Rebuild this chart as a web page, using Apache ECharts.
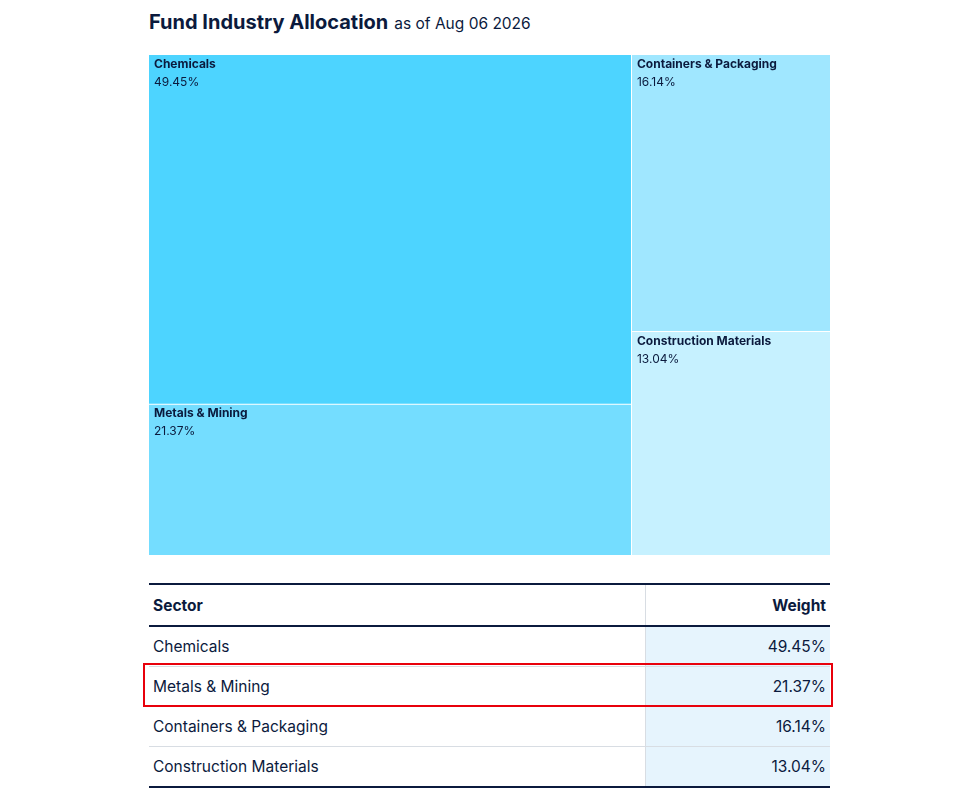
<!DOCTYPE html>
<html lang="en">
<head>
<meta charset="UTF-8">
<script src="https://cdn.jsdelivr.net/npm/echarts@6/dist/echarts.min.js"></script>
<title>Fund Industry Allocation</title>
<style>
    body { margin: 0; font-family: Inter, "Noto Sans", sans-serif; color: #0b1a3d; background: #fff; }
    .title { position: absolute; left: 149px; top: 10px; font-size: 20px; font-weight: 700; }
    .title span { font-size: 15.5px; font-weight: 400; margin-left: 6px; }
    #main { position: absolute; left: 149px; top: 55px; width: 681px; height: 500px; }
    table { position: absolute; left: 149px; top: 583px; width: 681px; border-collapse: collapse; font-size: 15.5px; }
    th { height: 40px; text-align: left; font-weight: 700; padding: 0 4px; border-top: 2px solid #0b1a3d; border-bottom: 2px solid #0b1a3d; }
    td { height: 39px; padding: 0 4px; border-bottom: 1px solid #d8dde3; }
    tr:last-child td { border-bottom: 2px solid #0b1a3d; }
    .w { text-align: right; width: 176px; border-left: 1px solid #d8dde3; }
    td.w { background: #e6f4fd; }
    .hl { position: absolute; left: 143px; top: 663px; width: 686px; height: 40px; border: 2px solid #e8000b; }
</style>
</head>
<body>
<div class="title">Fund Industry Allocation<span>as of Aug 06 2026</span></div>
<div id="main"></div>
<table id="tbl">
    <tr><th>Sector</th><th class="w">Weight</th></tr>
</table>
<div class="hl"></div>
<script>
    let sectors = ['Chemicals', 'Metals & Mining', 'Containers & Packaging', 'Construction Materials'];
    let weights = [49.45, 21.37, 16.14, 13.04];
    let colors = ['#4dd4ff', '#74ddff', '#a0e7ff', '#c6f1ff'];

    let tbl = document.getElementById('tbl');
    sectors.forEach((s, i) => {
        let tr = document.createElement('tr');
        tr.innerHTML = '<td>' + s + '</td><td class="w">' + weights[i].toFixed(2) + '%</td>';
        tbl.appendChild(tr);
    });

    let myChart = echarts.init(document.getElementById('main'));
    let option = {
        series: [{
            type: 'treemap',
            left: 0, top: 0, right: 0, bottom: 0,
            roam: false,
            nodeClick: false,
            breadcrumb: { show: false },
            squareRatio: 0.5 * (1 + Math.sqrt(5)),
            itemStyle: { borderColor: '#fff', borderWidth: 0, gapWidth: 1 },
            label: {
                show: true,
                position: [5, '100%'],
                verticalAlign: 'bottom',
                padding: [0, 0, 2, 0],
                formatter: p => '{b|' + p.name + '}\n{v|' + p.value.toFixed(2) + '%}',
                rich: {
                    b: { fontFamily: 'Inter', fontSize: 12, fontWeight: 700, color: '#0b1a3d', lineHeight: 18 },
                    v: { fontFamily: 'Inter', fontSize: 12, color: '#0b1a3d', lineHeight: 18 }
                }
            },
            data: sectors.map((s, i) => ({ name: s, value: weights[i], itemStyle: { color: colors[i] } }))
        }]
    };
    myChart.setOption(option);
</script>
</body>
</html>
